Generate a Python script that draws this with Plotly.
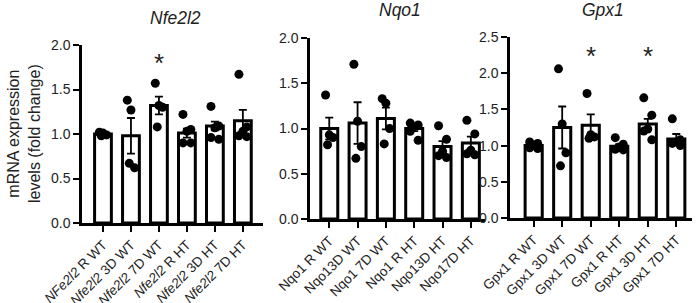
import plotly.graph_objects as go

W, H = 698, 303

# ---------------- data ----------------
groups = ["R WT", "3D WT", "7D WT", "R HT", "3D HT", "7D HT"]

nfe_labels = ["<i>NFe2l2</i> R WT", "<i>Nfe2l2</i> 3D WT", "<i>Nfe2l2</i> 7D WT",
              "<i>Nfe2l2</i> R HT", "<i>Nfe2l2</i> 3D HT", "<i>Nfe2l2</i> 7D HT"]
nfe_mean = [1.00, 0.98, 1.32, 1.01, 1.09, 1.15]
nfe_sem = [0.01, 0.20, 0.10, 0.05, 0.05, 0.12]
nfe_points = [[1.02, 1.01, 0.99, 0.98],
              [1.38, 1.27, 0.62, 0.67],
              [1.57, 1.32, 1.30, 1.08],
              [1.22, 1.05, 1.03, 0.90, 0.90],
              [1.31, 1.09, 1.07, 0.96, 0.94],
              [1.67, 1.08, 1.03, 0.98, 0.97]]
nfe_sig = [False, False, True, False, False, False]

nqo_labels = ["Nqo1 R WT", "Nqo13D WT", "Nqo1 7D WT", "Nqo1 R HT", "Nqo13D HT", "Nqo17D HT"]
nqo_mean = [1.00, 1.06, 1.11, 1.00, 0.80, 0.84]
nqo_sem = [0.12, 0.23, 0.12, 0.03, 0.06, 0.07]
nqo_points = [[1.37, 0.93, 0.90, 0.82],
              [1.71, 1.08, 0.80, 0.67],
              [1.33, 1.28, 1.00, 0.83],
              [1.06, 1.04, 1.02, 0.97, 0.87],
              [1.03, 0.88, 0.75, 0.70, 0.68],
              [1.09, 0.94, 0.76, 0.72, 0.71]]
nqo_sig = [False] * 6

gpx_labels = ["Gpx1 R WT", "Gpx1 3D WT", "Gpx1 7D WT", "Gpx1 R HT", "Gpx1 3D HT", "Gpx1 7D HT"]
gpx_mean = [1.00, 1.25, 1.28, 0.99, 1.30, 1.09]
gpx_sem = [0.02, 0.29, 0.15, 0.03, 0.07, 0.07]
gpx_points = [[1.05, 1.03, 1.00, 0.97, 0.96],
              [2.06, 1.30, 0.90, 0.72],
              [1.72, 1.15, 1.12, 1.10],
              [1.11, 1.02, 0.98, 0.95, 0.94],
              [1.66, 1.42, 1.23, 1.20, 1.08],
              [1.37, 1.08, 1.05, 1.03, 1.00]]
gpx_sig = [False, False, True, False, True, False]

titles = ["Nfe2l2", "Nqo1", "Gpx1"]
y_title = "mRNA expression<br>levels (fold change)"

# ---------------- layout geometry (pixels) ----------------
panels = [
    dict(labels=nfe_labels, mean=nfe_mean, sem=nfe_sem, pts=nfe_points, sig=nfe_sig,
         x0=82, x1=263, xr=[-0.75, 5.72], ytop=45, ybot=223, yr=[0, 2.0], dt=0.5,
         star_y=1.80, tx=175, ty=18),
    dict(labels=nqo_labels, mean=nqo_mean, sem=nqo_sem, pts=nqo_points, sig=nqo_sig,
         x0=310, x1=485, xr=[-0.68, 5.5], ytop=38, ybot=219, yr=[0, 2.0], dt=0.5,
         star_y=1.9, tx=400, ty=10),
    dict(labels=gpx_labels, mean=gpx_mean, sem=gpx_sem, pts=gpx_points, sig=gpx_sig,
         x0=510, x1=692, xr=[-0.83, 5.55], ytop=37, ybot=218, yr=[0, 2.5], dt=0.5,
         star_y=2.24, tx=603, ty=10),
]

FONT = "Liberation Sans, Arial, sans-serif"
TXT = "#222222"

def px_x(p):
    return p / W

def px_y(p):
    return 1 - p / H

offsets = {4: [-0.13, 0.0, 0.13, -0.06], 5: [-0.14, 0.14, 0.0, -0.14, 0.14]}

fig = go.Figure()
layout = dict(width=W, height=H, margin=dict(l=0, r=0, t=0, b=0, autoexpand=False),
              paper_bgcolor="white", plot_bgcolor="white", showlegend=False,
              font=dict(family=FONT, color=TXT))
annotations = []

for i, p in enumerate(panels, start=1):
    xa = "x" if i == 1 else f"x{i}"
    ya = "y" if i == 1 else f"y{i}"
    xs = list(range(len(p["mean"])))
    fig.add_trace(go.Bar(
        x=xs, y=p["mean"], xaxis=xa, yaxis=ya, width=0.6,
        marker=dict(color="white", line=dict(color="black", width=3)),
        error_y=dict(type="data", array=p["sem"], visible=True,
                     color="black", thickness=1.8, width=4),
    ))
    px, py = [], []
    for k, vals in enumerate(p["pts"]):
        off = offsets[len(vals)]
        for j, v in enumerate(vals):
            px.append(k + off[j])
            py.append(v)
    fig.add_trace(go.Scatter(
        x=px, y=py, xaxis=xa, yaxis=ya, mode="markers",
        marker=dict(color="black", size=9), cliponaxis=False,
    ))
    for k, s in enumerate(p["sig"]):
        if s:
            annotations.append(dict(x=k, y=p["star_y"], xref=xa, yref=ya, text="*",
                                    showarrow=False, font=dict(size=26, color=TXT),
                                    yanchor="middle"))
    key = "" if i == 1 else str(i)
    layout["xaxis" + key] = dict(
        domain=[px_x(p["x0"]), px_x(p["x1"])], range=p["xr"], anchor=ya,
        tickmode="array", tickvals=xs, ticktext=p["labels"], tickangle=-45,
        automargin=False,
        showline=True, linecolor="black", linewidth=2.5, ticks="outside",
        ticklen=6, tickwidth=2, tickcolor="black", showgrid=False, zeroline=False,
        tickfont=dict(size=13.5, family=FONT, color=TXT), fixedrange=True,
    )
    layout["yaxis" + key] = dict(
        domain=[px_y(p["ybot"]), px_y(p["ytop"])], range=p["yr"], anchor=xa,
        dtick=p["dt"], tickformat=".1f", automargin=False,
        showline=True, linecolor="black", linewidth=2.5, ticks="outside",
        ticklen=6, tickwidth=2, tickcolor="black", showgrid=False, zeroline=False,
        tickfont=dict(size=14, family=FONT, color=TXT), fixedrange=True,
    )
    annotations.append(dict(x=px_x(p["tx"]), y=px_y(p["ty"]), xref="paper", yref="paper",
                            text=f"<i>{titles[i-1]}</i>", showarrow=False,
                            font=dict(size=17.5, family=FONT, color=TXT),
                            xanchor="center", yanchor="middle"))

annotations.append(dict(x=px_x(24), y=px_y(134), xref="paper", yref="paper",
                        text=y_title, showarrow=False, textangle=-90,
                        font=dict(size=16, family=FONT, color=TXT),
                        xanchor="center", yanchor="middle"))
layout["annotations"] = annotations
layout["bargap"] = 0.4
fig.update_layout(**layout)
fig.write_html("out.html", config={"displayModeBar": False},
               post_script="document.body.style.margin='0';document.body.style.overflow='hidden';")
